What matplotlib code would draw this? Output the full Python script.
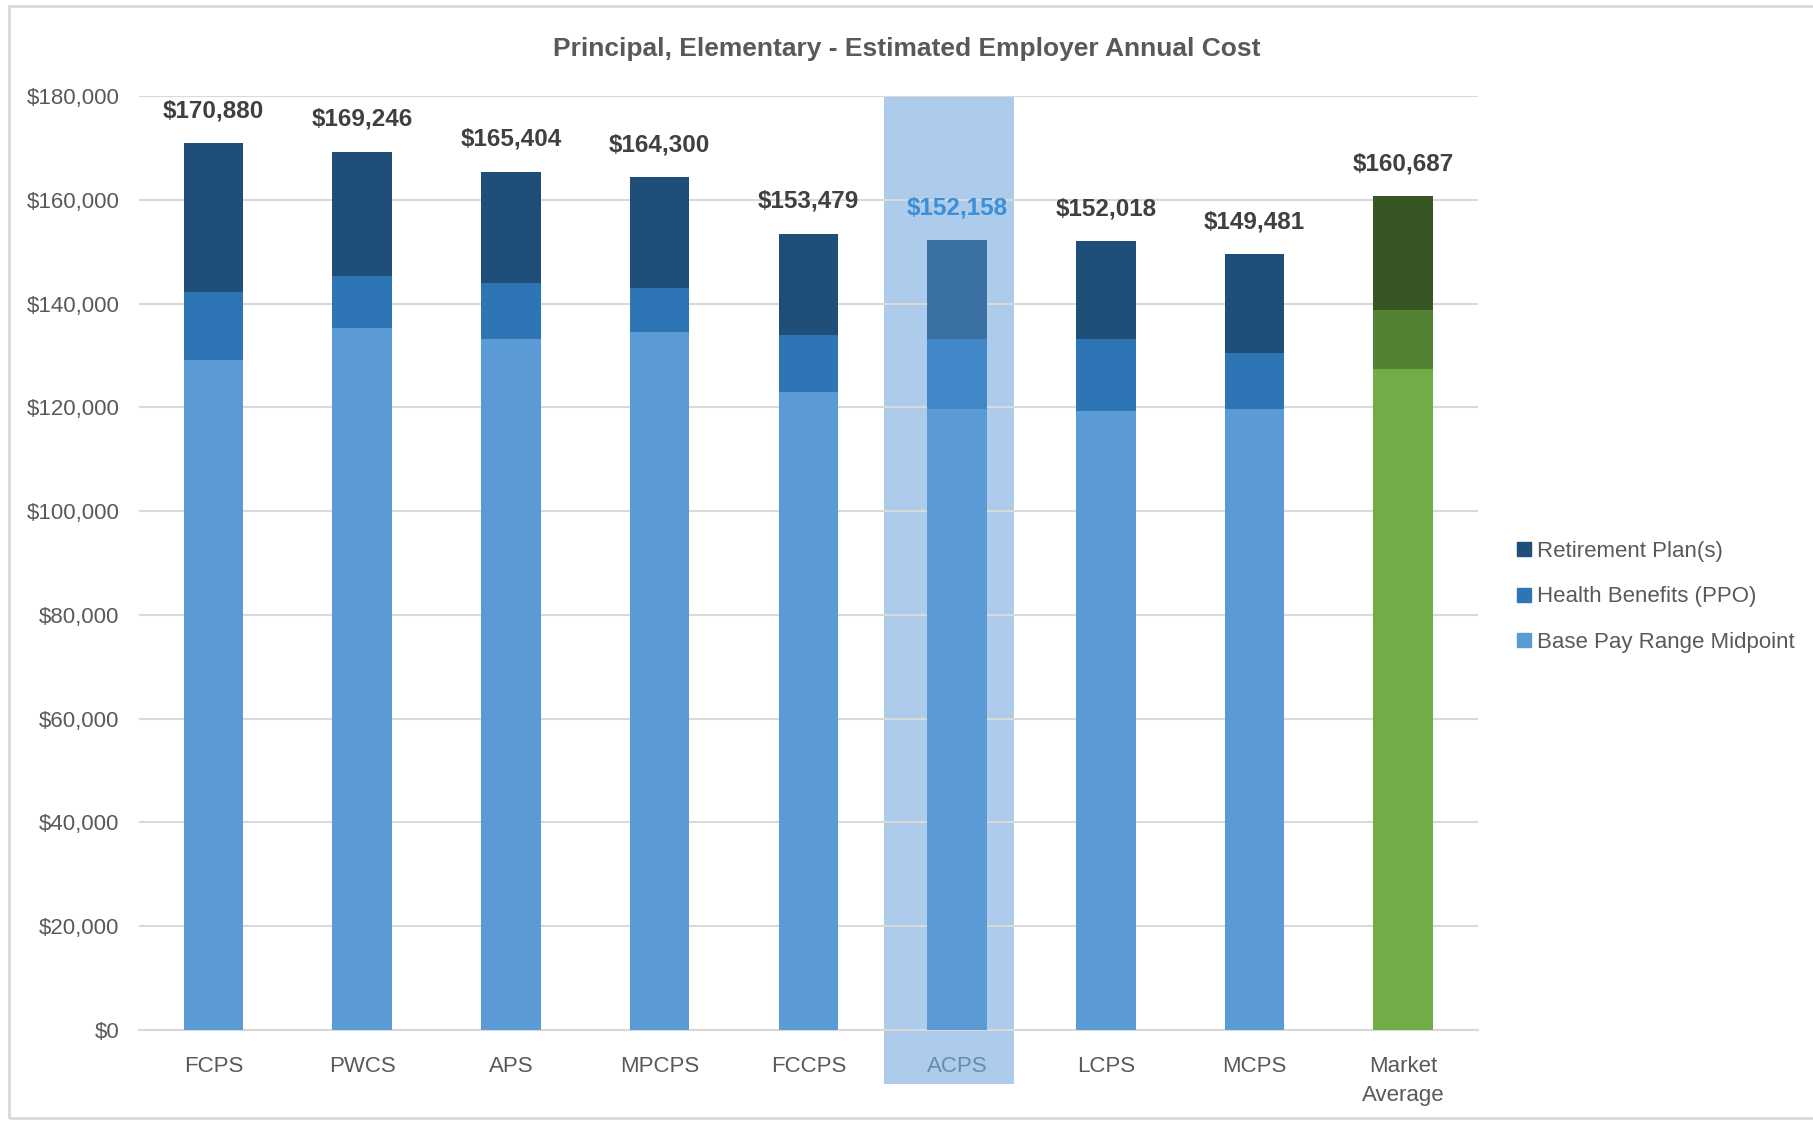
import matplotlib.pyplot as plt
from matplotlib.patches import Rectangle
from matplotlib.ticker import FuncFormatter

plt.rcParams['font.family'] = ['Liberation Sans', 'DejaVu Sans']

districts = ['FCPS', 'PWCS', 'APS', 'MPCPS', 'FCCPS', 'ACPS', 'LCPS', 'MCPS', 'Market\nAverage']
base_pay = [129200, 135200, 133200, 134550, 123000, 119600, 119200, 119600, 127400]
health = [13000, 10050, 10700, 8450, 10900, 13600, 14000, 10900, 11400]
totals = [170880, 169246, 165404, 164300, 153479, 152158, 152018, 149481, 160687]
retirement = [t - b - h for t, b, h in zip(totals, base_pay, health)]

blue = ['#5B9BD5', '#2E75B6', '#1F4E79']
acps = ['#5B9BD5', '#4288C8', '#3B70A4']
green = ['#70AD47', '#548235', '#375623']
highlight = 'ACPS'

fig = plt.figure(figsize=(18.13, 11.21), dpi=100)
ax = fig.add_axes([0.0767, 0.0812, 0.7383, 0.8332])

x = list(range(len(districts)))
hi = districts.index(highlight)

# highlight box behind the ACPS column (below grid and tick labels)
ax.bar(hi - 0.055, 180000 + 10470, bottom=-10470, width=0.873, color='#ADCBEA',
       clip_on=False, zorder=0.2)

for i in x:
    if districts[i].startswith('Market'):
        cols = green
    elif i == hi:
        cols = acps
    else:
        cols = blue
    ax.bar(i, base_pay[i], width=0.4, color=cols[0], zorder=3)
    ax.bar(i, health[i], bottom=base_pay[i], width=0.4, color=cols[1], zorder=3)
    ax.bar(i, retirement[i], bottom=base_pay[i] + health[i], width=0.4,
           color=cols[2], zorder=3)
    ax.annotate('${:,}'.format(totals[i]), (i, totals[i]), xytext=(0, 15),
                textcoords='offset points', ha='center', va='bottom',
                fontsize=17.5, fontweight='bold',
                color='#3A8FD8' if i == hi else '#404040', zorder=4)

ax.set_xlim(-0.5, len(districts) - 0.5)
ax.set_ylim(0, 180000)
ax.set_yticks(range(0, 180001, 20000))
ax.yaxis.set_major_formatter(FuncFormatter(lambda v, p: '${:,.0f}'.format(v)))
ax.set_xticks(x)
ax.set_xticklabels(districts, fontsize=16, color='#595959', linespacing=1.55)
ax.get_xticklabels()[hi].set_color('#6A8BB0')
ax.tick_params(axis='y', labelsize=16, labelcolor='#595959', length=0, pad=14)
ax.tick_params(axis='x', length=0, pad=18.5)
ax.grid(axis='y', color='#D9D9D9', linewidth=1.5)
ax.set_axisbelow(True)
for s in ['top', 'right', 'left']:
    ax.spines[s].set_visible(False)
ax.spines['bottom'].set_color('#D9D9D9')
ax.spines['bottom'].set_linewidth(1.5)

fig.text(0.5, 0.9565, 'Principal, Elementary - Estimated Employer Annual Cost',
         ha='center', va='center', fontsize=19, fontweight='bold', color='#595959')

handles = [Rectangle((0, 0), 1, 1, color=blue[2]),
           Rectangle((0, 0), 1, 1, color=blue[1]),
           Rectangle((0, 0), 1, 1, color=blue[0])]
fig.legend(handles, ['Retirement Plan(s)', 'Health Benefits (PPO)', 'Base Pay Range Midpoint'],
           loc='center left', bbox_to_anchor=(0.837, 0.4675), frameon=False,
           fontsize=16, labelcolor='#595959', handlelength=0.6, handleheight=0.6,
           handletextpad=0.3, labelspacing=1.1, borderpad=0, borderaxespad=0)

fig.patches.append(Rectangle((9 / 1813, 3 / 1121), 1.1, 1112 / 1121,
                             transform=fig.transFigure, fill=False,
                             edgecolor='#D9D9D9', linewidth=2))

fig.savefig('out.png', dpi=100)
